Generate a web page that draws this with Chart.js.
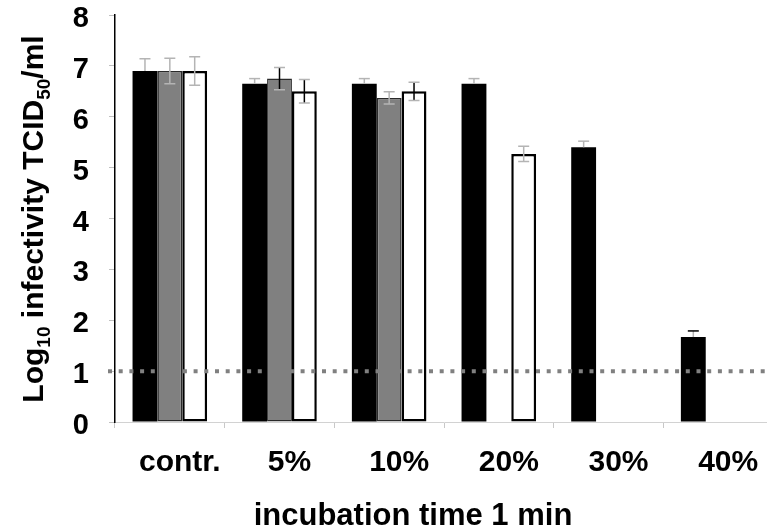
<!DOCTYPE html>
<html>
<head>
<meta charset="utf-8">
<script src="https://cdn.jsdelivr.net/npm/chart.js@4"></script>
<style>
  html, body { margin: 0; padding: 0; background: #fff; overflow: hidden; }
  #wrap { width: 780px; height: 529px; }
</style>
</head>
<body>
<div id="wrap"><canvas id="infectivity" width="780" height="529"></canvas></div>
<script>
// groups on the x axis
const categories = ['contr.', '5%', '10%', '20%', '30%', '40%'];

// log10 TCID50/ml, one list per series
const blackValues = [6.9, 6.65, 6.65, 6.65, 5.4, 1.67];
const grayValues = [6.9, 6.75, 6.37, 0, 0, 0];
const whiteValues = [6.9, 6.5, 6.5, 5.27, 0, 0];

// standard deviations (null = no bar drawn)
const blackErrors = [0.24, 0.1, 0.1, 0.1, 0.12, 0.12];
const grayErrors = [0.25, 0.22, 0.12, null, null, null];
const whiteErrors = [0.28, 0.23, 0.18, 0.15, null, null];

const yTicks = [0, 1, 2, 3, 4, 5, 6, 7, 8];
const detectionLimit = 1;

const FONT = "'Liberation Sans', Arial, Helvetica, sans-serif";
const LIGHT = '#b4b4b4';

// stem colours of the error bars, per dataset
const stemColors = [
  [LIGHT, LIGHT, LIGHT, LIGHT, LIGHT, LIGHT],
  [LIGHT, '#000', LIGHT, LIGHT, LIGHT, LIGHT],
  [LIGHT, '#000', '#000', LIGHT, LIGHT, LIGHT]
];
const capColors = [
  [LIGHT, LIGHT, LIGHT, LIGHT, LIGHT, '#000'],
  [LIGHT, LIGHT, LIGHT, LIGHT, LIGHT, LIGHT],
  [LIGHT, LIGHT, LIGHT, LIGHT, LIGHT, LIGHT]
];

// dotted detection limit line
const limitLine = {
  id: 'limitLine',
  afterDatasetsDraw(chart) {
    const { ctx, chartArea, scales } = chart;
    const y = scales.y.getPixelForValue(detectionLimit);
    ctx.save();
    ctx.strokeStyle = '#808080';
    ctx.lineWidth = 4;
    ctx.setLineDash([4, 6.7]);
    ctx.beginPath();
    ctx.moveTo(chartArea.left - 7, y);
    ctx.lineTo(chart.width, y);
    ctx.stroke();
    ctx.restore();
  }
};

const errorBars = {
  id: 'errorBars',
  afterDatasetsDraw(chart) {
    const { ctx, scales } = chart;
    const cap = 5.5;
    ctx.save();
    ctx.lineWidth = 1.5;
    chart.data.datasets.forEach((ds, i) => {
      const meta = chart.getDatasetMeta(i);
      meta.data.forEach((bar, j) => {
        const e = ds.errors[j];
        if (e == null) return;
        const v = ds.data[j];
        const top = scales.y.getPixelForValue(v + e);
        // lower half hidden on the solid black bars
        const bottom = ds.upperOnly ? bar.y : scales.y.getPixelForValue(v - e);
        ctx.strokeStyle = stemColors[i][j];
        ctx.beginPath();
        ctx.moveTo(bar.x, top);
        ctx.lineTo(bar.x, bottom);
        ctx.stroke();
        ctx.strokeStyle = capColors[i][j];
        ctx.beginPath();
        ctx.moveTo(bar.x - cap, top);
        ctx.lineTo(bar.x + cap, top);
        if (!ds.upperOnly) {
          ctx.moveTo(bar.x - cap, bottom);
          ctx.lineTo(bar.x + cap, bottom);
        }
        ctx.stroke();
      });
    });
    ctx.restore();
  }
};

// axis titles, the y one with subscripts
const axisTitles = {
  id: 'axisTitles',
  afterDraw(chart) {
    const { ctx, chartArea } = chart;
    const big = 'bold 30px ' + FONT;
    const small = 'bold 19px ' + FONT;
    const parts = [
      ['Log', big, 0], ['10', small, 7],
      [' infectivity TCID', big, 0], ['50', small, 7],
      ['/ml', big, 0]
    ];
    ctx.save();
    ctx.fillStyle = '#000';
    ctx.textBaseline = 'alphabetic';
    ctx.textAlign = 'left';
    let total = 0;
    parts.forEach(p => { ctx.font = p[1]; total += ctx.measureText(p[0]).width; });
    ctx.translate(chartArea.left - 72, 219);
    ctx.rotate(-Math.PI / 2);
    let x = -total / 2;
    parts.forEach(p => {
      ctx.font = p[1];
      ctx.fillText(p[0], x, p[2]);
      x += ctx.measureText(p[0]).width;
    });
    ctx.restore();

    ctx.save();
    ctx.fillStyle = '#000';
    ctx.font = 'bold 31px ' + FONT;
    ctx.textAlign = 'center';
    ctx.textBaseline = 'alphabetic';
    ctx.fillText('incubation time 1 min', chartArea.left + 298, chartArea.bottom + 103);
    ctx.restore();
  }
};

new Chart(document.getElementById('infectivity'), {
  type: 'bar',
  data: {
    labels: categories,
    datasets: [
      {
        data: blackValues,
        errors: blackErrors,
        upperOnly: true,
        backgroundColor: '#000',
        borderWidth: 0
      },
      {
        data: grayValues,
        errors: grayErrors,
        backgroundColor: '#808080',
        borderColor: '#2a2a2a',
        borderWidth: 1.5,
        borderSkipped: false
      },
      {
        data: whiteValues,
        errors: whiteErrors,
        backgroundColor: '#fff',
        borderColor: '#000',
        borderWidth: 2.5,
        borderSkipped: false
      }
    ]
  },
  options: {
    responsive: false,
    animation: false,
    layout: { padding: { top: 15, right: 7, left: 0, bottom: 0 } },
    datasets: {
      bar: { categoryPercentage: 0.68, barPercentage: 1.0 }
    },
    plugins: {
      legend: { display: false },
      tooltip: { enabled: false }
    },
    scales: {
      x: {
        grid: {
          drawOnChartArea: false,
          drawTicks: true,
          tickLength: 6,
          color: '#c8c8c8'
        },
        border: { color: '#d2d2d2', width: 1 },
        ticks: {
          color: '#000',
          padding: 17,
          labelOffset: 10,
          maxRotation: 0,
          font: { family: FONT, size: 30, weight: 'bold' }
        },
        afterFit(scale) {
          scale.height = 107;
          scale.paddingLeft = 0;
          scale.paddingRight = 0;
        }
      },
      y: {
        min: 0,
        max: 8,
        afterBuildTicks(scale) { scale.ticks = yTicks.map(v => ({ value: v })); },
        grid: {
          drawOnChartArea: false,
          drawTicks: true,
          tickLength: 6,
          color: '#c0c0c0'
        },
        border: { color: '#000', width: 1.5 },
        ticks: {
          color: '#000',
          padding: 20,
          labelOffset: 4,
          font: { family: FONT, size: 29, weight: 'bold' }
        },
        afterFit(scale) {
          scale.width = 115;
          scale.paddingTop = 0;
          scale.paddingBottom = 0;
        }
      }
    }
  },
  plugins: [limitLine, errorBars, axisTitles]
});
</script>
</body>
</html>
